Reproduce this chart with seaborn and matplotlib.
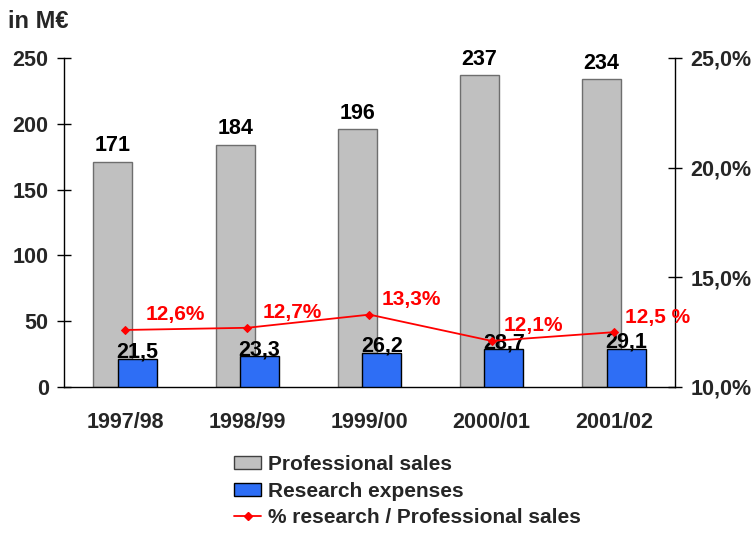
import matplotlib
matplotlib.use("Agg")
import matplotlib.pyplot as plt
from matplotlib.lines import Line2D
from matplotlib.patches import Patch
from matplotlib.ticker import FixedLocator, NullFormatter
import numpy as np
import pandas as pd
import seaborn as sns

years = ["1997/98", "1998/99", "1999/00", "2000/01", "2001/02"]
sales = [171, 184, 196, 237, 234]
research = [21.5, 23.3, 26.2, 28.7, 29.1]
pct = [12.6, 12.7, 13.3, 12.1, 12.5]
sales_labels = ["171", "184", "196", "237", "234"]
research_labels = ["21,5", "23,3", "26,2", "28,7", "29,1"]
pct_labels = ["12,6%", "12,7%", "13,3%", "12,1%", "12,5 %"]

sns.set_theme(style="white")
plt.rcParams['font.family'] = ['Liberation Sans', 'DejaVu Sans']
plt.rcParams['font.weight'] = 'bold'

GREY = "#C0C0C0"
BLUE = "#2E6EF5"
RED = "#FF0000"
FS = 15.5
FSL = 15

fig = plt.figure(figsize=(7.53, 5.34), dpi=100)
ax = fig.add_axes([64/753, 1-387/534, (675-64)/753, (387-58)/534])

df = pd.DataFrame({"year": years, "sales": sales, "research": research, "pct": pct})

W = 0.32
SH = 0.1
sns.barplot(data=df, x="year", y="sales", color=GREY, width=W, ax=ax,
            saturation=1, edgecolor="#6e6e6e", linewidth=1.0, zorder=2)
n_grey = len(ax.patches)
for p in ax.patches:
    p.set_x(p.get_x() - SH)
sns.barplot(data=df, x="year", y="research", color=BLUE, width=W, ax=ax,
            saturation=1, edgecolor="black", linewidth=1.0, zorder=3)
for p in ax.patches[n_grey:]:
    p.set_x(p.get_x() + SH)

for i, (v, lab) in enumerate(zip(sales, sales_labels)):
    ax.annotate(lab, (i - SH, v), xytext=(0, 4), textcoords="offset points",
                ha="center", va="bottom", fontsize=FS, fontweight="bold", color="black", zorder=6)
for i, (v, lab) in enumerate(zip(research, research_labels)):
    ax.annotate(lab, (i + SH, v), xytext=(0, -3), textcoords="offset points",
                ha="center", va="bottom", fontsize=FS, fontweight="bold", color="black", zorder=6)

ax.set_xlim(-0.5, 4.5)
ax.set_ylim(0, 250)
ax.set_yticks([0, 50, 100, 150, 200, 250])
ax.set_xlabel("")
ax.set_ylabel("")
ax.xaxis.set_major_locator(FixedLocator([0.5, 1.5, 2.5, 3.5, 4.5]))
ax.xaxis.set_major_formatter(NullFormatter())
ax.xaxis.set_minor_locator(FixedLocator(list(range(len(years)))))
ax.set_xticklabels(years, minor=True)
ax.tick_params(axis="x", which="major", direction="inout", length=10, width=1, color="black")
ax.tick_params(axis="x", which="minor", length=0, pad=18, labelsize=FS)
ax.tick_params(axis="y", direction="inout", length=10, width=1, color="black", labelsize=FS, pad=6)
for lab in ax.get_xticklabels(minor=True) + ax.get_yticklabels():
    lab.set_fontweight("bold")
for s in ["left", "bottom"]:
    ax.spines[s].set_color("black")
    ax.spines[s].set_linewidth(1)
ax.spines["top"].set_visible(False)
ax.spines["right"].set_visible(False)

ax2 = ax.twinx()
sns.lineplot(x=list(range(len(years))), y=pct, ax=ax2, color=RED, linewidth=1.3,
             marker="D", markersize=4.5, markeredgecolor=RED, zorder=5)
ax2.set_ylim(10, 25)
ax2.set_yticks([10, 15, 20, 25])
ax2.set_yticklabels(["10,0%", "15,0%", "20,0%", "25,0%"])
ax2.tick_params(axis="y", direction="inout", length=10, width=1, color="black", labelsize=FS, pad=6)
for lab in ax2.get_yticklabels():
    lab.set_fontweight("bold")
ax2.spines["top"].set_visible(False)
ax2.spines["left"].set_visible(False)
ax2.spines["bottom"].set_visible(False)
ax2.spines["right"].set_color("black")
ax2.spines["right"].set_linewidth(1)
ax2.set_xlim(-0.5, 4.5)
pct_dx = [15, 11, 8.5, 8.5, 8]
for i, (v, lab) in enumerate(zip(pct, pct_labels)):
    ax2.annotate(lab, (i, v), xytext=(pct_dx[i], 4), textcoords="offset points",
                 ha="left", va="bottom", fontsize=FSL, fontweight="bold", color=RED, zorder=6)

fig.text(8/753, 1-21/534, "in M€", fontsize=17, fontweight="bold", va="center", ha="left")

handles = [Patch(facecolor=GREY, edgecolor="#404040"),
           Patch(facecolor=BLUE, edgecolor="black"),
           Line2D([0], [0], color=RED, lw=1.3, marker="D", markersize=4.5)]
labels = ["Professional sales", "Research expenses", "% research / Professional sales"]
fig.legend(handles, labels, loc="upper left", bbox_to_anchor=(234/753, 1-455/534),
           frameon=False, handlelength=1.3, handleheight=0.62,
           handletextpad=0.34, labelspacing=0.37, borderaxespad=0, borderpad=0,
           prop={"weight": "bold", "size": FSL})

fig.savefig("out.png", dpi=100)
